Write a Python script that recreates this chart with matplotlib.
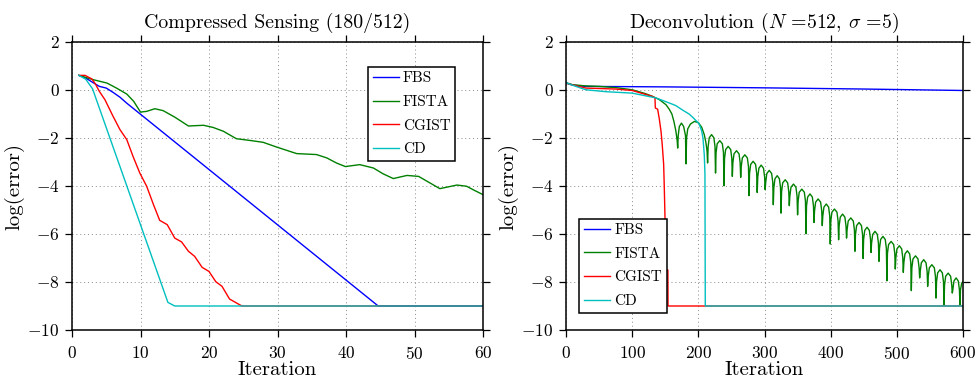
import matplotlib
matplotlib.use("Agg")
import matplotlib.pyplot as plt

plt.rcParams['font.family'] = ['cmr10', 'DejaVu Serif']
plt.rcParams['mathtext.fontset'] = 'cm'
plt.rcParams['axes.formatter.use_mathtext'] = True

# ---------------- Left panel: Compressed Sensing ----------------
cs_fbs_x = [1, 2, 3, 4, 5, 6, 7, 8, 44.7, 60]
cs_fbs_y = [0.61, 0.5, 0.32, 0.15, 0.08, -0.1, -0.3, -0.55, -9.0, -9.0]

cs_fista_x = [1, 3.1, 5.1, 6.5, 8, 9, 10, 10.9, 12.1, 13.3, 15, 17, 19.2, 20.6, 22.1, 24,
              26.2, 27.9, 29.9, 32.8, 35.7, 37.2, 38.6, 39.9, 42, 44, 45.4, 46.9, 48.9,
              50.6, 52.3, 53.7, 56.2, 57.6, 58.8, 60]
cs_fista_y = [0.61, 0.43, 0.29, 0.08, -0.17, -0.47, -0.92, -0.89, -0.78, -0.86, -1.13, -1.5,
              -1.47, -1.56, -1.72, -2.03, -2.11, -2.18, -2.38, -2.65, -2.69, -2.83, -3.04,
              -3.19, -3.11, -3.25, -3.49, -3.69, -3.56, -3.6, -3.88, -4.11, -3.96, -4.01,
              -4.19, -4.36]

cs_cgist_x = [1, 1.9, 2.9, 3.4, 4, 4.8, 6, 7, 8, 8.9, 9.9, 10.9, 11.9, 12.8, 13.9, 15, 16,
              17, 17.9, 19, 20, 21, 21.9, 23, 24.8, 60]
cs_cgist_y = [0.61, 0.61, 0.46, 0.26, -0.06, -0.4, -1.1, -1.65, -2.07, -2.76, -3.46, -4.01,
              -4.78, -5.43, -5.61, -6.17, -6.33, -6.72, -6.93, -7.39, -7.56, -7.99, -8.18,
              -8.71, -9.0, -9.0]

cs_cd_x = [1, 2, 3, 14, 15, 60]
cs_cd_y = [0.61, 0.45, 0.05, -8.85, -9.0, -9.0]

# ---------------- Right panel: Deconvolution ----------------
dc_fbs_x = [0, 10, 30, 150, 300, 450, 600]
dc_fbs_y = [0.3, 0.2, 0.15, 0.13, 0.09, 0.04, -0.02]

dc_fista_x = [
    0, 10, 30, 50, 75, 100, 120, 131, 141, 151, 156, 160, 163, 166, 168, 168.8,
    169.6, 171.3, 174.5, 177.8, 180.6, 181.4,
    182.2, 184, 188, 194, 200, 205, 209, 211.5, 213.2, 214,
    214.8, 216.5, 220, 223.5, 225.2, 226,
    226.8, 228.5, 232.4, 236.3, 238.0, 238.8,
    239.6, 241.3, 245.1, 248.9, 250.6, 251.4,
    252.2, 253.9, 257.7, 261.5, 263.2, 264,
    264.8, 266.5, 270.3, 274.1, 275.8, 276.6,
    277.4, 279.1, 282.8, 286.5, 288.2, 289,
    289.8, 291.5, 295, 298.5, 300.2, 301,
    301.8, 303.5, 307.2, 310.8, 312.5, 313.3,
    314.1, 315.8, 319.2, 322.5, 324.2, 325,
    325.8, 327.5, 331.3, 335, 336.7, 337.5,
    338.3, 340, 343.8, 347.5, 349.2, 350,
    350.8, 352.5, 356.4, 360.2, 361.9, 362.7,
    363.5, 365.2, 368.8, 372.3, 374, 374.8,
    375.6, 377.3, 381, 384.8, 386.5, 387.3,
    388.1, 389.8, 393.4, 396.9, 398.6, 399.4,
    400.2, 401.9, 405.7, 409.5, 411.2, 412,
    412.8, 414.5, 418, 421.5, 423.2, 424,
    424.8, 426.5, 430.4, 434.2, 435.9, 436.7,
    437.5, 439.2, 442.9, 446.5, 448.2, 449,
    449.8, 451.5, 455, 458.5, 460.2, 461,
    461.8, 463.5, 467, 470.5, 472.2, 473,
    473.8, 475.5, 479, 482.5, 484.2, 485,
    485.8, 487.5, 491.4, 495.2, 496.9, 497.7,
    498.5, 500.2, 503.8, 507.3, 509, 509.8,
    510.6, 512.3, 515.9, 519.4, 521.1, 521.9,
    522.7, 524.4, 528.2, 532, 533.7, 534.5,
    535.3, 537, 540.6, 544.1, 545.8, 546.6,
    547.4, 549.1, 552.9, 556.7, 558.4, 559.2,
    560, 561.7, 565.3, 568.8, 570.5, 571.3,
    572.1, 573.8, 577.6, 581.3, 583, 583.8,
    584.6, 586.3, 589.6, 592.9, 594.6, 595.4,
    596.2, 598, 600]
dc_fista_y = [
    0.3, 0.22, 0.17, 0.15, 0.1, 0.01, -0.15, -0.27, -0.4, -0.61, -0.8, -1.0, -1.3, -1.7, -2.1, -2.42,
    -1.9, -1.52, -1.38, -1.52, -1.9, -3.08,
    -2.0, -1.62, -1.42, -1.31, -1.36, -1.55, -1.86, -2.2, -2.55, -3.04,
    -2.36, -1.99, -1.86, -1.99, -2.36, -3.46,
    -2.61, -2.24, -2.11, -2.24, -2.61, -3.99,
    -2.85, -2.48, -2.35, -2.48, -2.85, -3.60,
    -3.03, -2.66, -2.53, -2.66, -3.03, -3.64,
    -3.20, -2.83, -2.70, -2.83, -3.20, -4.40,
    -3.47, -3.10, -2.97, -3.10, -3.47, -4.27,
    -3.63, -3.26, -3.13, -3.26, -3.63, -4.15,
    -3.85, -3.48, -3.35, -3.48, -3.85, -4.78,
    -4.07, -3.70, -3.57, -3.70, -4.07, -5.13,
    -4.24, -3.87, -3.74, -3.87, -4.24, -4.82,
    -4.42, -4.05, -3.92, -4.05, -4.42, -5.20,
    -4.63, -4.26, -4.13, -4.26, -4.63, -5.99,
    -4.83, -4.46, -4.33, -4.46, -4.83, -5.52,
    -5.04, -4.67, -4.54, -4.67, -5.04, -5.65,
    -5.25, -4.88, -4.75, -4.88, -5.25, -6.42,
    -5.46, -5.09, -4.96, -5.09, -5.46, -6.24,
    -5.67, -5.30, -5.17, -5.30, -5.67, -6.17,
    -5.83, -5.46, -5.33, -5.46, -5.83, -6.72,
    -6.02, -5.65, -5.52, -5.65, -6.02, -7.02,
    -6.22, -5.85, -5.72, -5.85, -6.22, -6.77,
    -6.39, -6.02, -5.89, -6.02, -6.39, -7.14,
    -6.60, -6.23, -6.10, -6.23, -6.60, -7.95,
    -6.81, -6.44, -6.31, -6.44, -6.81, -7.46,
    -6.99, -6.62, -6.49, -6.62, -6.99, -7.60,
    -7.20, -6.83, -6.70, -6.83, -7.20, -8.36,
    -7.41, -7.04, -6.91, -7.04, -7.41, -7.83,
    -7.57, -7.20, -7.07, -7.20, -7.57, -8.18,
    -7.78, -7.41, -7.28, -7.41, -7.78, -8.67,
    -7.99, -7.62, -7.49, -7.62, -7.99, -8.95,
    -8.13, -7.76, -7.63, -7.76, -8.13, -8.46,
    -8.33, -7.96, -7.83, -7.96, -8.33, -8.95,
    -8.33, -8.05, -7.98]

dc_cgist_x = [0, 30, 75, 100, 131, 134.5, 135, 138.5, 141, 143.6, 145.5, 147.6, 148.5,
              149.6, 151, 154, 154.2, 600]
dc_cgist_y = [0.28, 0.08, 0.04, -0.02, -0.27, -0.33, -0.75, -0.8, -1.2, -1.72, -2.3, -3.1,
              -4.0, -5.3, -7.5, -7.5, -9.0, -9.0]

dc_cd_x = [0, 15, 30, 60, 100, 136, 157, 166, 177, 186, 192, 201, 205, 207, 209, 210,
           210.5, 600]
dc_cd_y = [0.3, 0.15, 0.01, -0.07, -0.13, -0.33, -0.55, -0.65, -0.85, -1.0, -1.15, -1.4,
           -1.7, -2.0, -2.7, -3.5, -9.0, -9.0]

labels = ['FBS', 'FISTA', 'CGIST', 'CD']
colors = ['#0000ff', '#008000', '#ff0000', '#00bfbf']
yticks = [-10, -8, -6, -4, -2, 0, 2]
cs_xticks = [0, 10, 20, 30, 40, 50, 60]
dc_xticks = [0, 100, 200, 300, 400, 500, 600]

fig = plt.figure(figsize=(9.77, 3.77), dpi=100)
ax1 = fig.add_axes([72 / 977, 1 - 330 / 377, 411 / 977, 288 / 377])
ax2 = fig.add_axes([566 / 977, 1 - 330 / 377, 397 / 977, 288 / 377])


def style(ax, xticks, xlim, title):
    ax.set_xlim(*xlim)
    ax.set_ylim(-10, 2)
    ax.set_xticks(xticks)
    ax.set_yticks(yticks)
    ax.grid(True, linestyle=(0, (1, 3)), color='#8c8c8c', linewidth=0.7)
    ax.tick_params(direction='out', top=True, right=True, length=5, width=0.9,
                   labelsize=12.5)
    ax.tick_params(axis='x', pad=6)
    ax.tick_params(axis='y', pad=4)
    for s in ax.spines.values():
        s.set_linewidth(1.1)
    ax.set_xlabel('Iteration', fontsize=15, labelpad=-1)
    ax.set_ylabel('log(error)', fontsize=15, labelpad=2)
    ax.set_title(title, fontsize=14.3, pad=10)


def add_legend(ax, loc, anchor):
    leg = ax.legend(loc=loc, bbox_to_anchor=anchor, borderaxespad=0, fontsize=11,
                    fancybox=False, edgecolor='black', framealpha=1, handlelength=1.75,
                    handletextpad=0.25, borderpad=0.3, labelspacing=0.65)
    leg.get_frame().set_linewidth(1.1)
    leg.set_zorder(10)
    return leg


series1 = [(cs_fbs_x, cs_fbs_y), (cs_fista_x, cs_fista_y), (cs_cgist_x, cs_cgist_y),
           (cs_cd_x, cs_cd_y)]
for (x, y), c, l in zip(series1, colors, labels):
    ax1.plot(x, y, color=c, lw=1.0, label=l)
style(ax1, cs_xticks, (0, 60), 'Compressed Sensing (180/512)')
add_legend(ax1, 'upper left', (0.72, 0.913))

series2 = [(dc_fbs_x, dc_fbs_y), (dc_fista_x, dc_fista_y), (dc_cgist_x, dc_cgist_y),
           (dc_cd_x, dc_cd_y)]
for (x, y), c, l in zip(series2, colors, labels):
    ax2.plot(x, y, color=c, lw=1.0, label=l)
style(ax2, dc_xticks, (0, 600), r'Deconvolution ($N$ =512, $\sigma$ =5)')
add_legend(ax2, 'lower left', (0.033, 0.06))

fig.savefig('out.png', dpi=100)
